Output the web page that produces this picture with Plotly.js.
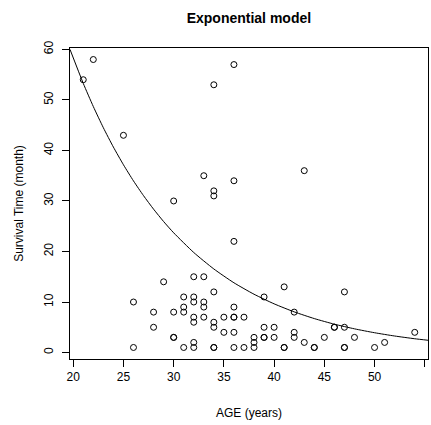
<!DOCTYPE html>
<html>
<head>
<meta charset="utf-8">
<script src="https://cdn.plot.ly/plotly-3.0.1.min.js"></script>
<style>html,body{margin:0;padding:0;background:#fff;}#chart{width:431px;height:425px;}</style>
</head>
<body>
<div id="chart"></div>
<script>
// Observed data: AGE (years) vs Survival Time (month)
const age = [21,22,25,26,26,28,28,29,30,30,30,30,
  31,31,31,31,
  32,32,32,32,32,32,32,
  33,33,33,33,33,
  34,34,34,34,34,34,34,34,
  35,35,
  36,36,36,36,36,36,36,36,
  37,37,
  38,38,38,
  39,39,39,39,
  40,40,
  41,41,41,
  42,42,42,
  43,43,
  44,44,
  45,
  46,46,
  47,47,47,47,
  48,
  50,51,54];
const survival = [54,58,43,10,1,8,5,14,30,8,3,3,
  11,9,8,1,
  15,11,10,7,6,2,1,
  35,15,10,9,7,
  53,32,31,12,6,5,1,1,
  7,4,
  57,34,22,9,7,7,4,1,
  7,1,
  3,2,1,
  11,5,3,3,
  5,3,
  13,1,1,
  8,4,3,
  36,2,
  1,1,
  3,
  5,5,
  12,5,1,1,
  3,
  1,2,4];

// Fitted exponential curve
const curveAge = [19.68,21,22,23,24,25,26,27,28,29,30,32,34,36,38,40,42,44,46,48,50,52,54,55.32];
const curveSurvival = [60,53.28,48.70,44.50,40.67,37.17,33.97,31.05,28.38,25.93,23.70,19.80,16.54,13.81,11.54,9.64,8.05,6.72,5.61,4.69,3.92,3.27,2.73,2.43];

const xTicks = [20,25,30,35,40,45,50,55];
const yTicks = [0,10,20,30,40,50,60];

const FONT = "Liberation Sans, Arial, Helvetica, sans-serif";

const traces = [
  {
    x: age, y: survival, type: 'scatter', mode: 'markers',
    marker: {symbol: 'circle-open', size: 6, color: '#000', line: {width: 1, color: '#000'}},
    hoverinfo: 'x+y', showlegend: false
  },
  {
    x: curveAge, y: curveSurvival, type: 'scatter', mode: 'lines',
    line: {color: '#000', width: 1, shape: 'spline', smoothing: 0.6},
    hoverinfo: 'skip', showlegend: false
  }
];

const layout = {
  width: 431, height: 425,
  margin: {l: 70, r: 3, t: 48, b: 66, pad: 0},
  paper_bgcolor: '#fff', plot_bgcolor: '#fff',
  font: {family: FONT, size: 12, color: '#000'},
  title: {text: '<b>Exponential model</b>', font: {family: FONT, size: 14, color: '#000'},
          x: 0.5775, xanchor: 'center', y: 0.957, yanchor: 'middle'},
  xaxis: {
    range: [19.68, 55.32], tickvals: xTicks, ticktext: xTicks.map(String),
    ticks: 'outside', ticklen: 7, tickwidth: 1, tickcolor: '#000',
    showline: true, mirror: true, linecolor: '#000', linewidth: 1,
    showgrid: false, zeroline: false,
    tickfont: {family: FONT, size: 12, color: '#000'},
    title: {text: 'AGE (years)', font: {family: FONT, size: 12, color: '#000'}, standoff: 25}
  },
  yaxis: {
    range: [-1.28, 60.28], tickvals: yTicks, ticktext: yTicks.map(String),
    tickangle: -90, ticklabelstandoff: 4,
    ticks: 'outside', ticklen: 7, tickwidth: 1, tickcolor: '#000',
    showline: true, mirror: true, linecolor: '#000', linewidth: 1,
    showgrid: false, zeroline: false,
    tickfont: {family: FONT, size: 12, color: '#000'},
    title: {text: 'Survival Time (month)', font: {family: FONT, size: 12, color: '#000'}, standoff: 16}
  }
};

Plotly.newPlot('chart', traces, layout, {displayModeBar: false, staticPlot: true});
</script>
</body>
</html>
